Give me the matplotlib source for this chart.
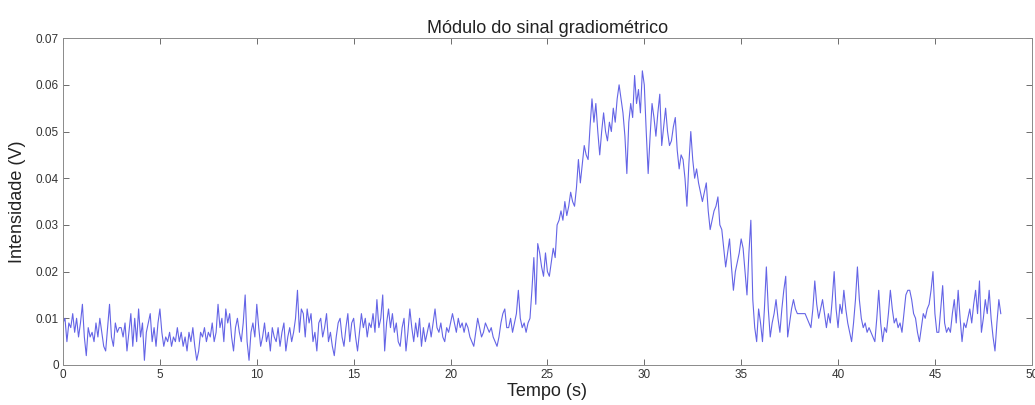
import numpy as np
import matplotlib
matplotlib.use('Agg')
import matplotlib.pyplot as plt

plt.rcParams['font.family'] = ['Liberation Sans', 'DejaVu Sans']

# sample spacing of the recording (s)
dt = 0.1

# signal module, in mV (one row per second)
intensity_mv = [
    9, 10, 5, 9, 8, 11, 7, 10, 6, 9,
    13, 6, 2, 8, 6, 7, 5, 9, 6, 10,
    7, 4, 3, 8, 13, 6, 4, 9, 7, 8,
    8, 6, 9, 3, 7, 11, 4, 10, 5, 12,
    6, 9, 1, 7, 9, 11, 5, 8, 4, 9,
    12, 7, 4, 6, 5, 7, 4, 6, 5, 8,
    5, 7, 4, 6, 3, 7, 5, 8, 4, 1,
    3, 7, 6, 8, 5, 7, 6, 9, 5, 7,
    13, 8, 10, 5, 12, 9, 11, 6, 3, 8,
    10, 7, 5, 9, 15, 5, 1, 7, 9, 6,
    13, 8, 4, 6, 9, 5, 7, 3, 8, 6,
    5, 8, 4, 7, 9, 3, 6, 8, 5, 7,
    10, 16, 7, 12, 11, 6, 12, 9, 11, 5,
    7, 3, 9, 10, 6, 8, 11, 5, 7, 4,
    2, 6, 9, 10, 6, 4, 8, 11, 5, 9,
    10, 6, 3, 7, 11, 8, 10, 6, 9, 8,
    11, 7, 14, 8, 10, 15, 3, 9, 12, 8,
    11, 7, 9, 5, 4, 8, 10, 3, 7, 12,
    8, 5, 9, 6, 10, 4, 8, 5, 7, 9,
    6, 9, 12, 8, 7, 9, 6, 5, 8, 7,
    9, 11, 9, 7, 10, 8, 9, 7, 9, 8,
    6, 5, 4, 7, 10, 8, 6, 7, 9, 8,
    7, 8, 6, 5, 4, 6, 9, 11, 12, 8,
    8, 10, 7, 9, 11, 16, 10, 8, 9, 7,
    9, 10, 16, 23, 13, 26, 24, 21, 19, 24,
    20, 19, 22, 25, 23, 30, 31, 33, 31, 35,
    32, 34, 37, 35, 34, 38, 44, 39, 43, 47,
    45, 44, 51, 57, 52, 56, 50, 45, 50, 54,
    50, 48, 52, 50, 55, 52, 57, 60, 57, 54,
    49, 41, 52, 56, 53, 62, 56, 59, 54, 63,
    60, 50, 41, 49, 56, 53, 49, 54, 58, 47,
    51, 55, 50, 47, 48, 51, 53, 46, 42, 45,
    44, 40, 34, 43, 50, 44, 40, 42, 39, 37,
    35, 37, 39, 33, 29, 31, 33, 34, 36, 30,
    29, 25, 21, 24, 27, 21, 16, 20, 22, 24,
    27, 25, 20, 15, 24, 31, 14, 8, 5, 12,
    9, 5, 12, 21, 12, 6, 9, 11, 14, 10,
    7, 12, 16, 19, 6, 9, 12, 14, 12, 11,
    11, 11, 11, 11, 10, 9, 8, 12, 18, 13,
    10, 12, 14, 11, 8, 11, 9, 14, 20, 12,
    8, 13, 11, 16, 12, 9, 7, 5, 9, 14,
    21, 14, 10, 8, 9, 7, 8, 7, 6, 5,
    10, 16, 9, 5, 8, 7, 11, 16, 12, 9,
    10, 8, 9, 7, 11, 15, 16, 16, 14, 11,
    10, 7, 5, 8, 11, 10, 12, 13, 16, 20,
    11, 7, 7, 12, 17, 9, 7, 8, 7, 11,
    14, 9, 16, 10, 5, 9, 8, 10, 12, 9,
    13, 16, 11, 18, 7, 10, 14, 11, 16, 10,
    6, 3, 9, 14, 11,
]

x_ticks = [0, 5, 10, 15, 20, 25, 30, 35, 40, 45, 50]
y_ticks = [0, 0.01, 0.02, 0.03, 0.04, 0.05, 0.06, 0.07]
y_tick_labels = ['0', '0.01', '0.02', '0.03', '0.04', '0.05', '0.06', '0.07']

intensity = np.array(intensity_mv) / 1000.0
tempo = np.arange(len(intensity)) * dt

fig = plt.figure(figsize=(10.35, 4.05), dpi=100)
ax = fig.add_axes([0.0609, 0.0988, 0.936, 0.807])

ax.plot(tempo, intensity, color='#6464e6', lw=0.8)

ax.set_xlim(0, 50)
ax.set_ylim(0, 0.07)
ax.set_xticks(x_ticks)
ax.set_yticks(y_ticks)
ax.set_yticklabels(y_tick_labels)
ax.tick_params(direction='in', top=True, right=True, length=4, width=0.6,
               labelsize=8.5, colors='#555555', labelcolor='#333333', pad=3)
for s in ax.spines.values():
    s.set_color('#8a8a8a')
    s.set_linewidth(0.7)

ax.set_title('Módulo do sinal gradiométrico', fontsize=13, color='#222222', pad=4)
ax.set_xlabel('Tempo (s)', fontsize=13, color='#222222', labelpad=1)
ax.set_ylabel('Intensidade (V)', fontsize=13, color='#222222', labelpad=7)

fig.savefig('out.png', dpi=100)
